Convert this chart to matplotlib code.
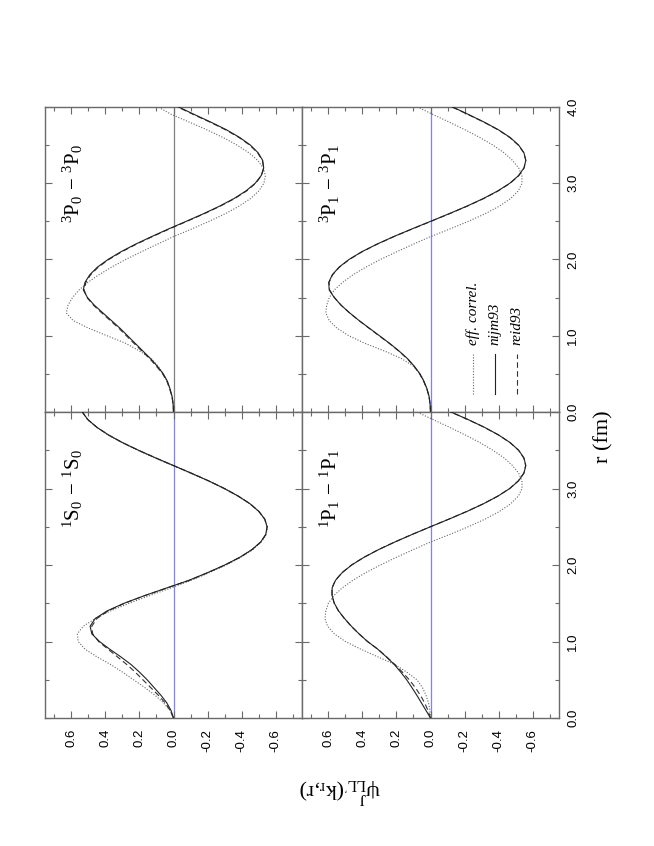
import matplotlib
matplotlib.use("Agg")
import matplotlib.pyplot as plt
from matplotlib.ticker import MultipleLocator

plt.rcParams['font.family'] = ['Liberation Sans', 'DejaVu Sans']
plt.rcParams['mathtext.fontset'] = 'custom'
plt.rcParams['mathtext.rm'] = 'Liberation Serif'
plt.rcParams['mathtext.it'] = 'Liberation Serif:italic'

# radial grid (fm)
r = [0.0, 0.1, 0.2, 0.3, 0.4, 0.5, 0.6, 0.7, 0.8, 0.9,
     1.0, 1.1, 1.2, 1.3, 1.4, 1.5, 1.6, 1.7, 1.8, 1.9,
     2.0, 2.1, 2.2, 2.3, 2.4, 2.5, 2.6, 2.7, 2.8, 2.9,
     3.0, 3.1, 3.2, 3.3, 3.4, 3.5, 3.6, 3.7, 3.8, 3.9, 4.0]

# 3P0 - 3P0
p3p0_eff = [0, .002, .008, .02, .037, .06, .09, .13, .2, .28,
            .39, .5, .59, .63, .62, .594, .555, .503, .438, .364,
            .281, .19, .096, 0, -.107, -.209, -.304, -.386, -.453, -.502,
            -.531, -.54, -.527, -.495, -.443, -.374, -.291, -.197, -.095, .01, .09]
p3p0_nijm = [0, .002, .008, .02, .035, .06, .095, .135, .18, .225,
             .27, .315, .365, .415, .465, .505, .53, .52, .492, .447,
             .385, .31, .224, .129, .03, -.074, -.176, -.271, -.356, -.426,
             -.48, -.515, -.53, -.524, -.497, -.452, -.389, -.312, -.221, -.124, -.03]
p3p0_reid = [0, .002, .009, .022, .038, .064, .1, .14, .186, .232,
             .277, .322, .372, .422, .47, .508, .525, .515, .487, .442,
             .38, .305, .219, .124, .025, -.078, -.18, -.275, -.36, -.43,
             -.483, -.517, -.53, -.522, -.494, -.448, -.385, -.307, -.216, -.119, -.025]

# 3P1 - 3P1
p3p1_eff = [0, .002, .008, .02, .037, .06, .1, .17, .27, .385,
            .48, .55, .595, .615, .61, .595, .565, .517, .455, .38,
            .295, .2, .102, 0, -.114, -.222, -.321, -.405, -.471, -.516,
            -.538, -.537, -.518, -.482, -.432, -.367, -.29, -.204, -.112, -.016, .075]
p3p1_nijm = [0, .002, .008, .02, .038, .062, .095, .135, .185, .24,
             .30, .36, .42, .475, .525, .565, .595, .598, .577, .537,
             .479, .405, .316, .217, .11, 0, -.109, -.214, -.311, -.396,
             -.466, -.517, -.549, -.56, -.549, -.518, -.468, -.40, -.317, -.225, -.13]
p3p1_reid = [0, .002, .009, .021, .04, .064, .097, .137, .187, .242,
             .302, .362, .421, .476, .525, .564, .593, .596, .575, .535,
             .477, .403, .314, .215, .108, -.002, -.111, -.216, -.313, -.398,
             -.468, -.519, -.55, -.56, -.548, -.516, -.466, -.398, -.315, -.222, -.127]

# 1S0 - 1S0
s1s0_eff = [0, .02, .06, .11, .17, .235, .3, .37, .45, .52,
            .56, .565, .53, .46, .37, .26, .14, .015, -.105, -.21,
            -.31, -.395, -.465, -.515, -.545, -.552, -.535, -.5, -.448, -.378,
            -.296, -.203, -.1, .005, .11, .21, .303, .385, .452, .505, .537]
s1s0_nijm = [0, .015, .04, .075, .115, .155, .2, .25, .31, .375,
             .435, .48, .49, .46, .39, .29, .17, .04, -.091, -.2,
             -.301, -.389, -.46, -.512, -.542, -.55, -.536, -.502, -.45, -.381,
             -.299, -.206, -.105, 0, .105, .206, .3, .382, .45, .503, .536]
s1s0_reid = [0, .02, .05, .09, .135, .18, .225, .275, .33, .385,
             .44, .475, .48, .45, .385, .287, .168, .038, -.093, -.202,
             -.303, -.39, -.461, -.513, -.543, -.55, -.536, -.502, -.45, -.381,
             -.299, -.206, -.105, 0, .105, .206, .3, .382, .45, .503, .536]

# 1P1 - 1P1
p1p1_eff = [0, .003, .012, .027, .048, .08, .14, .21, .31, .41,
            .5, .565, .605, .62, .615, .60, .568, .519, .456, .381,
            .295, .201, .102, 0, -.114, -.222, -.321, -.405, -.471, -.516,
            -.538, -.537, -.518, -.482, -.432, -.367, -.29, -.204, -.112, -.016, .08]
p1p1_nijm = [0, .027, .054, .081, .11, .14, .175, .213, .26, .31,
             .37, .42, .465, .505, .54, .565, .578, .578, .558, .519,
             .463, .391, .306, .21, .107, 0, -.109, -.214, -.311, -.396,
             -.466, -.517, -.549, -.56, -.549, -.518, -.468, -.40, -.317, -.222, -.12]
p1p1_reid = [0, .015, .035, .06, .09, .125, .165, .21, .258, .31,
             .37, .42, .466, .506, .541, .566, .579, .579, .559, .52,
             .464, .392, .307, .211, .108, .001, -.108, -.213, -.31, -.395,
             -.465, -.516, -.548, -.559, -.548, -.517, -.467, -.399, -.316, -.221, -.119]

panels = [
    # (label, eff, nijm, reid, zero line colour)
    (r'$^{3}\mathrm{P}_{0}\,-\,^{3}\mathrm{P}_{0}$', p3p0_eff, p3p0_nijm, p3p0_reid, '#808080'),
    (r'$^{3}\mathrm{P}_{1}\,-\,^{3}\mathrm{P}_{1}$', p3p1_eff, p3p1_nijm, p3p1_reid, '#7f7fff'),
    (r'$^{1}\mathrm{S}_{0}\,-\,^{1}\mathrm{S}_{0}$', s1s0_eff, s1s0_nijm, s1s0_reid, '#7f7fff'),
    (r'$^{1}\mathrm{P}_{1}\,-\,^{1}\mathrm{P}_{1}$', p1p1_eff, p1p1_nijm, p1p1_reid, '#7f7fff'),
]

W, H = 654, 846
fig = plt.figure(figsize=(W / 100, H / 100), dpi=100)

# panel boxes in pixels: (x0, y0 top, width, height)
boxes = [(45, 107, 257, 305), (302, 107, 257, 305),
         (45, 412, 257, 306), (302, 412, 257, 306)]

frame = '#6a6a6a'
eff_style = dict(color='#666666', lw=0.8, ls=(0, (1, 1.5)))
nijm_style = dict(color='#222222', lw=0.8, ls='-')
reid_style = dict(color='#333333', lw=0.8, ls=(0, (5, 3)))

axes = []
for i, (box, (lab, eff, nijm, reid, zc)) in enumerate(zip(boxes, panels)):
    x0, y0, w, h = box
    ax = fig.add_axes([x0 / W, 1 - (y0 + h) / H, w / W, h / H])
    axes.append(ax)
    ax.axvline(0, color=zc, lw=0.9, zorder=1)
    ax.plot(eff, r, zorder=2, **eff_style)
    ax.plot(reid, r, zorder=3, **reid_style)
    ax.plot(nijm, r, zorder=4, **nijm_style)
    ax.set_xlim(0.755, -0.755)
    ax.set_ylim(0, 4)
    ax.xaxis.set_major_locator(MultipleLocator(0.2))
    ax.xaxis.set_minor_locator(MultipleLocator(0.1))
    ax.yaxis.set_major_locator(MultipleLocator(1.0))
    ax.yaxis.set_minor_locator(MultipleLocator(0.5))
    for s in ax.spines.values():
        s.set_color(frame)
        s.set_linewidth(1.0)
    ax.tick_params(which='both', direction='in', top=True, bottom=True,
                   left=True, right=True, colors=frame,
                   labelbottom=(i >= 2), labelleft=False,
                   labelright=(i % 2 == 1), labeltop=False)
    ax.tick_params(which='major', length=5, width=0.8)
    ax.tick_params(which='minor', length=3, width=0.8)
    ax.tick_params(axis='x', labelrotation=90, pad=8, labelcolor='black',
                   labelsize=9.5)
    ax.tick_params(axis='y', labelrotation=90, pad=6, labelcolor='black',
                   labelsize=9.5)
    ax.xaxis.set_major_formatter(plt.FormatStrFormatter('%.1f'))
    ax.yaxis.set_major_formatter(plt.FormatStrFormatter('%.1f'))
    for t in ax.get_yticklabels():
        t.set_verticalalignment('center')
    ax.text(0.11, 0.75, lab, transform=ax.transAxes, rotation=90,
            ha='center', va='center', fontsize=15)

# bottom right panel: no 4.0 label (clashes with the panel above)
axes[3].set_yticks([0, 1, 2, 3, 4])
axes[3].set_yticklabels(['0.0', '1.0', '2.0', '3.0', ''])
for t in axes[3].get_yticklabels():
    t.set_verticalalignment('center')

# legend in the 3P1 panel, drawn by hand (vertical samples)
leg = axes[1]
names = ['eff. correl.', 'nijm93', 'reid93']
styles = [eff_style, nijm_style, reid_style]
xs = [0.665, 0.751, 0.837]
for xx, nm, st in zip(xs, names, styles):
    leg.plot([xx, xx], [0.06, 0.19], transform=leg.transAxes, **st)
    leg.text(xx, 0.22, nm, transform=leg.transAxes, rotation=90,
             ha='center', va='bottom', fontsize=11,
             family='Liberation Serif', style='italic')

fig.text(604 / W, 1 - 437 / H, 'r (fm)', rotation=90, ha='center', va='center',
         fontsize=16, family='Liberation Serif')
fig.text(340 / W, 1 - 790 / H, r"$\mathrm{\psi^{J}_{LL'}(k_{r}{,}r)}$", rotation=180,
         ha='center', va='center', fontsize=16)

fig.savefig('out.png', dpi=100)
